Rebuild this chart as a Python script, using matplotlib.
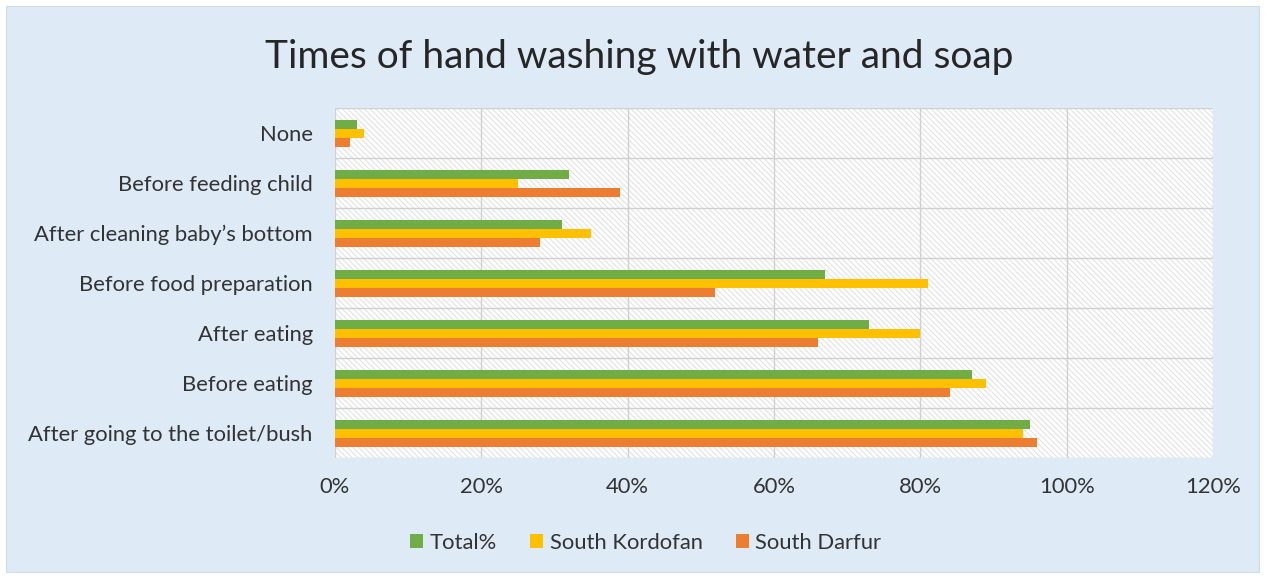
import numpy as np
import matplotlib
matplotlib.use('Agg')
import matplotlib.pyplot as plt
from matplotlib.patches import FancyBboxPatch, Rectangle
import matplotlib.ticker as mticker

# ── Data ────────────────────────────────────────────────────────────────────
categories = [
    'None',
    'Before feeding child',
    "After cleaning baby\u2019s bottom",
    'Before food preparation',
    'After eating',
    'Before eating',
    'After going to the toilet/bush',
]
total_pct      = [3, 32, 31, 67, 73, 87, 95]
south_kordofan = [4, 25, 35, 81, 80, 89, 94]
south_darfur   = [2, 39, 28, 52, 66, 84, 96]

series_names  = ['Total%', 'South Kordofan', 'South Darfur']
series_colors = ['#70AD47', '#FFC000', '#ED7D31']
x_ticks = [0, 20, 40, 60, 80, 100, 120]

plt.rcParams['font.family'] = ['Lato', 'DejaVu Sans']
plt.rcParams['hatch.linewidth'] = 0.8

fig = plt.figure(figsize=(12.66, 5.77), dpi=100)
fig.patch.set_facecolor('white')
fig.patches.append(FancyBboxPatch((6 / 1266, 5 / 577), 1253 / 1266, 566 / 577,
                                  boxstyle='square,pad=0',
                                  transform=fig.transFigure,
                                  facecolor='#DEEAF6', edgecolor='#D0DCE8',
                                  linewidth=0.8, zorder=-5))

ax = fig.add_axes([335 / 1266, 1 - 458 / 577, 878 / 1266, 350 / 577])
ax.set_facecolor('white')

# hatched plot background
ax.add_patch(Rectangle((0, 0), 1, 1, transform=ax.transAxes,
                       facecolor='white', edgecolor='#E2E2E2',
                       hatch='\\\\\\\\\\\\', linewidth=0, zorder=0))

n = len(categories)
y = np.arange(n)[::-1]  # first category on top
h = 0.18
offsets = [h, 0, -h]
for vals, name, col, off in zip([total_pct, south_kordofan, south_darfur],
                                series_names, series_colors, offsets):
    ax.barh(y + off, vals, height=h, color=col, label=name, zorder=3)

ax.set_xlim(0, 120)
ax.set_ylim(-0.5, n - 0.5)
ax.set_xticks(x_ticks)
ax.xaxis.set_major_formatter(mticker.FuncFormatter(lambda v, _: f'{v:.0f}%'))
ax.set_yticks(y)
ax.set_yticklabels(categories)

# gridlines: vertical at ticks, horizontal at category boundaries
for xv in x_ticks:
    ax.axvline(xv, color='#D0D0D0', linewidth=1.0, zorder=1)
for yb in np.arange(-0.5, n, 1.0):
    ax.axhline(yb, color='#D0D0D0', linewidth=1.0, zorder=1)

for s in ax.spines.values():
    s.set_visible(False)
ax.tick_params(axis='both', length=0, labelsize=15.8, colors='#333333')
ax.tick_params(axis='x', pad=14)
ax.tick_params(axis='y', pad=16)

fig.text(0.505, 1 - 57 / 577, 'Times of hand washing with water and soap',
         ha='center', va='center', fontsize=28, color='#262626')

leg = fig.legend(loc='center', bbox_to_anchor=(0.51, 1 - 543 / 577), ncol=3,
                 frameon=False, fontsize=15.8, handlelength=0.6,
                 handleheight=0.6, handletextpad=0.3, columnspacing=1.5)
for t in leg.get_texts():
    t.set_color('#333333')

fig.savefig('out.png', dpi=100)
